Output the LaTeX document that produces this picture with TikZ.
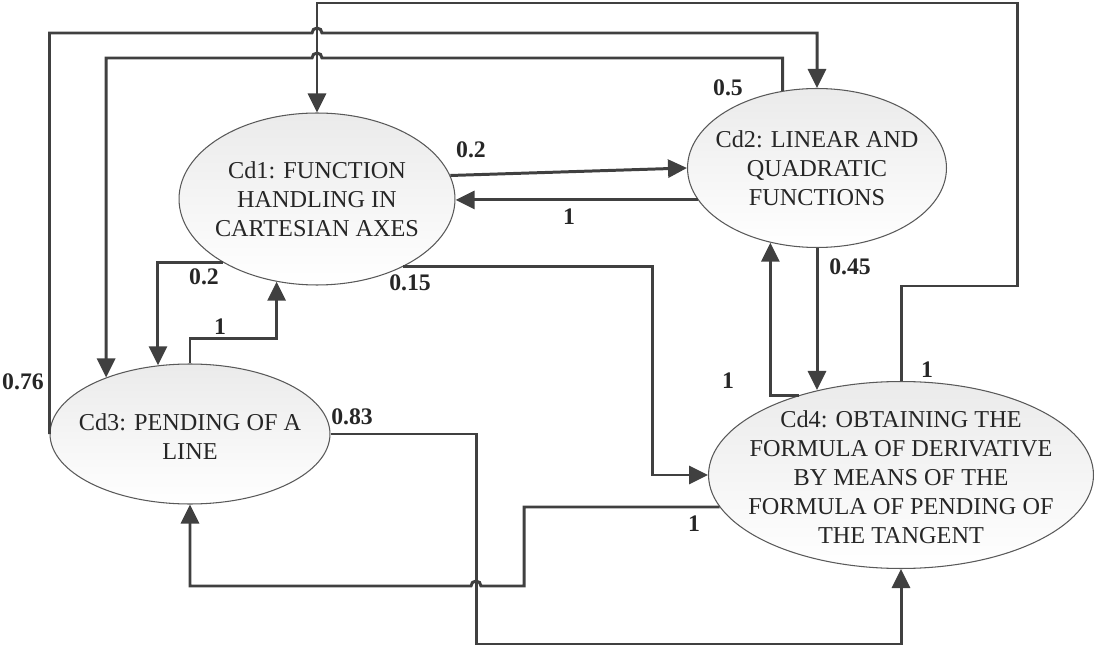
\documentclass[tikz,border=0pt]{standalone}
\usepackage{fontspec}
\setmainfont{Liberation Serif}
\usetikzlibrary{arrows.meta,shapes.geometric}

\begin{document}
\begin{tikzpicture}[x=0.02cm,y=-0.02cm,>={Triangle[length=0.38cm,width=0.36cm]},
  cd/.style={ellipse,draw=black!65,line width=0.6pt,top color=black!8,bottom color=white,inner sep=0pt},
  cdtext/.style={align=center,font=\fontsize{13.8}{16.5}\selectfont,text=black!85},
  link/.style={->,line width=1.7pt,draw=black!75},
  wt/.style={font=\fontsize{13.5}{15}\selectfont\bfseries,text=black!85}]
\useasboundingbox (0,0) rectangle (1098,648);
\node[cd,minimum width=5.52cm,minimum height=3.44cm] (cd1) at (317,199) {};
\node[cd,minimum width=5.18cm,minimum height=3.18cm] (cd2) at (817,168) {};
\node[cd,minimum width=5.6cm,minimum height=2.8cm] (cd3) at (190,434) {};
\node[cd,minimum width=7.7cm,minimum height=3.74cm] (cd4) at (901,475) {};
\node[cdtext] (t1) at (cd1) {Cd1: FUNCTION\\HANDLING IN\\CARTESIAN AXES};
\node[cdtext] (t2) at (cd2) {Cd2: LINEAR AND\\QUADRATIC\\FUNCTIONS};
\node[cdtext] (t3) at (190,437) {Cd3: PENDING OF A\\LINE};
\node[cdtext] (t4) at (901,477) {Cd4: OBTAINING THE\\FORMULA OF DERIVATIVE\\BY MEANS OF THE\\FORMULA OF PENDING OF\\THE TANGENT};
\draw[link] (cd4.north) |- (1017,286) |- (317,3) -- (cd1.north);
\draw[link] (cd3.west) |- (312,33) arc (180:360:5) -| (cd2.north);
\draw[link] (cd2.114) |- (322,58) arc (0:-180:5) -| (cd3.146);
\draw[link] (cd1.10) -- (cd2.west);
\draw[link] (cd2.195) -- (cd2.195 -| cd1.east);
\draw[link] (cd1.214) -| (cd3.115);
\draw[link] (cd3.north) -- ++(0,-25) -| (cd1.244);
\draw[link] (cd1.322) -| (652,400) |- (cd4.west);
\draw[link] (cd2.south) -- (cd2.south |- cd4.134);
\draw[link] (cd4.142) -| (cd2.238);
\draw[link] (cd3.east) -| (476,644) -| (cd4.south);
\draw[link] (cd4.190) -| (524,586) -- (481,586) arc (0:-180:5) -| (cd3.south);
\node[wt] (w12) at (471,150) {0.2};
\node[wt] (w21) at (569,217) {1};
\node[wt] (w23) at (728,88) {0.5};
\node[wt] (w13) at (204,277) {0.2};
\node[wt] (w14) at (410,283) {0.15};
\node[wt] (w31) at (220,327) {1};
\node[wt] (w32) at (23,382) {0.76};
\node[wt] (w34) at (352,417) {0.83};
\node[wt] (w24) at (850,267) {0.45};
\node[wt] (w42) at (728,381) {1};
\node[wt] (w41) at (927,370) {1};
\node[wt] (w43) at (694,524) {1};
\end{tikzpicture}
\end{document}
